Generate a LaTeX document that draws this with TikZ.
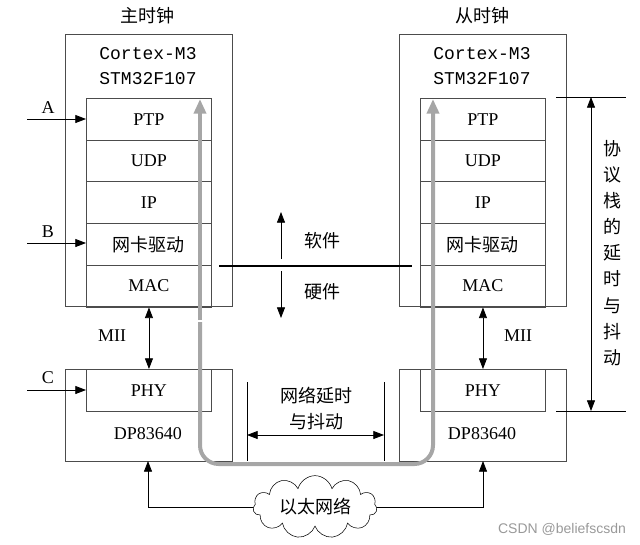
\documentclass[tikz,border=0pt]{standalone}
\usepackage{fontspec}
\setmainfont{Liberation Serif}
\newfontfamily\cjk{Noto Sans CJK SC}
\newfontfamily\mono{Liberation Mono}
\usetikzlibrary{shapes.symbols,arrows.meta}
\begin{document}
\begin{tikzpicture}[x=0.75pt,y=-0.75pt,
 box/.style={draw=black!70,line width=0.7pt},
 lbl/.style={font=\fontsize{13.5}{16}\selectfont},
 zh/.style={font=\fontsize{13.5}{16}\selectfont\cjk},
 cell/.style={box,minimum width=125*0.75pt,minimum height=41.7*0.75pt,anchor=north west,inner sep=0},
 arr/.style={-{Triangle[length=8pt,width=6pt]},line width=0.6pt},
 darr/.style={{Triangle[length=8pt,width=6pt]}-{Triangle[length=8pt,width=6pt]},line width=0.6pt}]
\useasboundingbox (0,0) rectangle (640,544);
\draw[box] (65,34) rectangle (232,306);
\draw[box] (65,369) rectangle (232,461);
\draw[box] (399,34) rectangle (566,306);
\draw[box] (399,369) rectangle (566,461);
\foreach \x/\s in {86/L,420/R}{
 \node[cell,lbl] (ptp\s) at (\x,98) {PTP};
 \node[cell,lbl] (udp\s) at (\x,139.7) {UDP};
 \node[cell,lbl] (ip\s) at (\x,181.4) {IP};
 \node[cell,zh] (drv\s) at (\x,223.1) {网卡驱动};
 \node[cell,lbl] (mac\s) at (\x,264.8) {MAC};
 \node[cell,lbl] (phy\s) at (\x,369) {PHY};
}
\node[zh] (t1) at (147,16) {主时钟};
\node[zh] (t2) at (482,16) {从时钟};
\node[font=\fontsize{13.5}{18.5}\selectfont\mono,align=center] (c1) at (148,66) {Cortex-M3\\STM32F107};
\node[font=\fontsize{13.5}{18.5}\selectfont\mono,align=center] (c2) at (482,66) {Cortex-M3\\STM32F107};
\node[lbl] (dp1) at (148,434) {DP83640};
\node[lbl] (dp2) at (482,434) {DP83640};
\foreach \y/\ly/\t in {119/108/A,243/232/B,390/378/C}{
 \coordinate (s\t) at (27,\y);
 \node[lbl] (l\t) at (48,\ly) {\t};
 \draw[arr] (s\t) -- (86,\y);
}
\draw[darr] (macL.south) -- (phyL.north);
\draw[darr] (macR.south) -- (phyR.north);
\node[lbl] (m1) at (112,336) {MII};
\node[lbl] (m2) at (518,336) {MII};
\draw[draw=black!35,line width=3pt,-{Triangle[length=11pt,width=9pt]}] (200,320) -- (200,99);
\draw[draw=black!35,line width=3pt,rounded corners=14pt,-{Triangle[length=11pt,width=9pt]}] (200,322) -- (200,464) -- (433,464) -- (433,99);
\draw[line width=1pt] (219,266) -- (412,266);
\draw[arr] (281,259) -- (281,212);
\draw[arr] (281,271) -- (281,318);
\node[zh] (sw) at (322,241) {软件};
\node[zh] (hw) at (322,292) {硬件};
\draw[line width=0.5pt] (247,382) -- (247,461);
\draw[line width=0.5pt] (384,382) -- (384,461);
\draw[darr] (247,435) -- (384,435);
\node[align=center,font=\fontsize{13.5}{19.5}\selectfont\cjk] (nd) at (316,409) {网络延时\\与抖动};
\draw[line width=0.5pt] (556,97) -- (626,97);
\draw[line width=0.5pt] (556,411) -- (626,411);
\draw[darr] (591,97) -- (591,411);
\node[align=center,font=\fontsize{13.5}{19.6}\selectfont\cjk] (vd) at (612,253) {协\\议\\栈\\的\\延\\时\\与\\抖\\动};
\node[cloud,draw,cloud puffs=11,aspect=2.4,minimum width=124*0.75pt,minimum height=56*0.75pt,inner sep=0,zh] (cl) at (315,507) {以太网络};
\draw[arr] (cl.west) -| (148,461);
\draw[arr] (cl.east) -| (483,461);
\node[text=black!40,font=\fontsize{10.5}{12}\selectfont\fontspec{Liberation Sans}] (wm) at (562,529) {CSDN @beliefscsdn};
\end{tikzpicture}
\end{document}
